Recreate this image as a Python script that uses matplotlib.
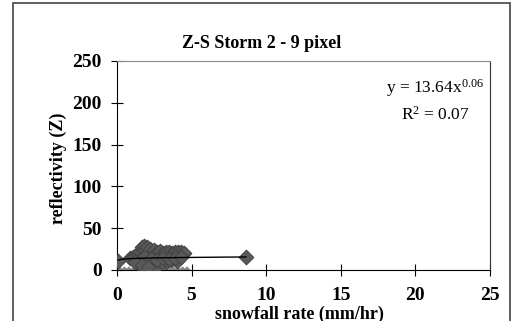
import numpy as np
import matplotlib.pyplot as plt
from matplotlib.patches import Rectangle

# snowfall rate (mm/hr) and reflectivity (Z)
rate = [0.07, 8.65,
        0.9, 1.1, 1.2, 1.4, 1.5, 1.6, 1.7, 1.8, 1.9, 2.0, 2.1, 2.2, 2.3, 2.4,
        2.5, 2.6, 2.7, 2.8, 2.9, 3.0, 3.1, 3.2, 3.3, 3.4, 3.5, 3.6, 3.7,
        3.8, 3.9, 4.0, 4.1, 4.2, 4.3, 4.4, 4.5, 1.3, 1.9, 2.4, 2.8, 3.3,
        1.6, 2.2, 2.6, 3.0, 3.6, 4.0, 1.5, 1.8, 2.0, 2.3, 2.7, 3.1, 3.5,
        3.9, 4.3, 1.2, 1.7, 2.1]
refl = [10.5, 16.0,
        14, 15, 17, 18, 22, 20, 27, 29, 24, 27, 22, 25, 18, 20,
        24, 16, 21, 19, 23, 17, 20, 16, 22, 18, 21, 16, 20,
        19, 22, 18, 21, 17, 22, 19, 20, 9, 10, 7, 12, 10,
        5, 5, 4, 9, 12, 11, 12, 15, 8, 13, 12, 14, 13,
        14, 15, 10, 6, 3]
zero_rate = [0.2, 0.5, 0.8, 1.1, 1.4, 1.7, 2.0, 2.3, 2.6, 2.9, 3.2, 3.5,
             3.8, 4.1, 4.4, 4.7]
zero_refl = [0] * len(zero_rate)

coef = 13.64
expo = 0.06

plt.rcParams['font.family'] = ['Liberation Serif', 'DejaVu Serif']
plt.rcParams['mathtext.fontset'] = 'custom'
plt.rcParams['mathtext.rm'] = 'Liberation Serif'
plt.rcParams['mathtext.it'] = 'Liberation Serif:italic'

fig = plt.figure(figsize=(5.13, 3.21), dpi=100)
ax = fig.add_axes([0.228, 0.159, 0.727, 0.651])

ax.scatter(zero_rate, zero_refl, marker='D', s=14, color='#8a8a8a',
           edgecolors='none', zorder=2)
ax.scatter(rate, refl, marker='D', s=55, color='#5a5a5a',
           edgecolors='#454545', linewidths=0.8, zorder=3)

xs = np.linspace(min(rate), max(rate), 200)
ax.plot(xs, coef * xs ** expo, color='black', lw=1, zorder=4)

ax.set_xlim(0, 25)
ax.set_ylim(0, 250)
ax.set_xticks(range(0, 26, 5))
ax.set_yticks(range(0, 251, 50))
ax.tick_params(direction='inout', length=8, width=0.8, labelsize=14)
ax.tick_params(axis='x', pad=8)
ax.tick_params(axis='y', pad=7)
for lab in ax.get_xticklabels() + ax.get_yticklabels():
    lab.set_fontweight('bold')

ax.spines['top'].set_color('#888888')
ax.spines['right'].set_color('#333333')

fig.text(262 / 513, 1 - 44 / 321, "Z-S Storm 2 - 9 pixel", fontsize=13,
         fontweight='bold', ha='center', va='center')
ax.set_xlabel("snowfall rate (mm/hr)", fontsize=13, fontweight='bold',
              va='center')
ax.xaxis.set_label_coords(0.49, -0.21)
ax.set_ylabel("reflectivity (Z)", fontsize=13, fontweight='bold', va='center')
ax.yaxis.set_label_coords(-0.158, 0.488)

ax.text(0.985, 0.871, r"y = 13.64x$^{0.06}$", transform=ax.transAxes,
        ha='right', va='center', fontsize=12.5)
ax.text(0.945, 0.742, r"R$^{2}$ = 0.07", transform=ax.transAxes,
        ha='right', va='center', fontsize=12.5)

fig.patches.append(Rectangle((13 / 513, -0.05), 497 / 513, 1.04,
                             transform=fig.transFigure, fill=False,
                             edgecolor='#444444', lw=1.2))

fig.savefig("out.png", dpi=100)
